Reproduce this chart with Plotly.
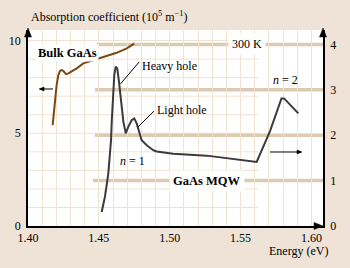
import plotly.graph_objects as go

# ---------------- data ----------------
bulk_energy = [1.4174, 1.4183, 1.4193, 1.4202, 1.4214, 1.4226, 1.4238, 1.4249, 1.4268,
               1.4285, 1.4308, 1.4344, 1.4390, 1.4461, 1.4532, 1.4626, 1.4697, 1.4750]
bulk_alpha = [5.44, 6.25, 6.97, 7.60, 8.14, 8.37, 8.41, 8.37, 8.19,
              8.23, 8.34, 8.50, 8.77, 8.95, 9.13, 9.34, 9.58, 9.83]

mqw_energy = [1.4520, 1.4543, 1.4567, 1.4586, 1.4591, 1.4602, 1.4609, 1.4619, 1.4630,
              1.4642, 1.4656, 1.4673, 1.4690, 1.4708, 1.4732, 1.4750, 1.4767, 1.4783,
              1.4802, 1.4838, 1.4884, 1.4908, 1.5025, 1.5261, 1.5426, 1.5614, 1.5708,
              1.5789, 1.5807, 1.5908]
mqw_alpha = [0.31, 0.645, 1.16, 1.89, 2.30, 2.96, 3.33, 3.51, 3.47,
             3.18, 2.74, 2.30, 2.04, 2.19, 2.33, 2.37, 2.26, 2.08,
             1.89, 1.78, 1.67, 1.64, 1.59, 1.55, 1.48, 1.41, 2.09,
             2.81, 2.81, 2.48]

x_ticks = [1.40, 1.45, 1.50, 1.55, 1.60]
x_ticklabels = ["1.40", "1.45", "1.50", "1.55", "1.60"]
left_ticks = [0, 5, 10]
right_ticks = [0, 1, 2, 3, 4]
level_values = [1, 2, 3, 4]
level_starts = [1.4459, 1.4473, 1.4473, 1.4487]

X_MAX = 1.6082
LEFT_MAX = 10.57
RIGHT_MAX = 4.317

PAPER = "#eee3d6"
GRID = "#f1e2d1"
TAN = "#dccab3"
BROWN = "#7a4812"
DARK = "#3a3a3a"
FONT = "Liberation Serif"

fig = go.Figure()

fig.add_trace(go.Scatter(x=bulk_energy, y=bulk_alpha, mode="lines",
                         line=dict(color=BROWN, width=2), yaxis="y", hoverinfo="skip"))
fig.add_trace(go.Scatter(x=mqw_energy, y=mqw_alpha, mode="lines",
                         line=dict(color=DARK, width=2), yaxis="y2", hoverinfo="skip"))

shapes = []
# horizontal grid (limited extent like graph paper)
for v in range(1, 11):
    shapes.append(dict(type="line", xref="x", yref="y", x0=1.40, x1=1.5625, y0=v, y1=v,
                       line=dict(color=GRID, width=1), layer="below"))
# thick tan level lines
for v, s in zip(level_values, level_starts):
    shapes.append(dict(type="line", xref="x", yref="y2", x0=s, x1=X_MAX, y0=v, y1=v,
                       line=dict(color=TAN, width=3.5), layer="below"))
# leader lines
shapes.append(dict(type="line", xref="x", yref="y2", x0=1.4653, y0=3.13, x1=1.4784, y1=3.61,
                   line=dict(color="black", width=1)))
shapes.append(dict(type="line", xref="x", yref="y2", x0=1.4776, y0=2.18, x1=1.4889, y1=2.53,
                   line=dict(color="black", width=1)))


def head(xref, yref, xa, ya, path):
    return dict(type="path", xref=xref, yref=yref, xsizemode="pixel", ysizemode="pixel",
                xanchor=xa, yanchor=ya, path=path,
                fillcolor="black", line=dict(color="black", width=0.5))


# series arrows (shaft + head)
shapes.append(dict(type="line", xref="x", yref="y", x0=1.4176, x1=1.4085, y0=7.39, y1=7.39,
                   line=dict(color="black", width=1)))
shapes.append(head("x", "y", 1.4078, 7.39, "M 0,0 L 5,2 L 5,-2 Z"))
shapes.append(dict(type="line", xref="x", yref="y2", x0=1.5708, x1=1.5925, y0=1.63, y1=1.63,
                   line=dict(color="black", width=1)))
shapes.append(head("x", "y2", 1.5934, 1.63, "M 0,0 L -5,2 L -5,-2 Z"))
# axis arrowheads
shapes.append(head("paper", "paper", 0, 1, "M 0,2 L -3.5,-7 L 3.5,-7 Z"))
shapes.append(head("paper", "paper", 1, 1, "M 0,2 L -3.5,-7 L 3.5,-7 Z"))
shapes.append(head("paper", "paper", 1, 0, "M 0,0 L -9,3.5 L -9,-3.5 Z"))

annotations = [
    dict(text="Absorption coefficient (10<sup>5</sup> m<sup>−1</sup>)", xref="paper", yref="paper",
         x=0.005, y=1.068, xanchor="left", yanchor="middle", showarrow=False,
         font=dict(size=12, family=FONT)),
    dict(text="Energy (eV)", xref="paper", yref="paper", x=1.025, y=-0.128,
         xanchor="right", yanchor="middle", showarrow=False, font=dict(size=12, family=FONT)),
    dict(text="<b>Bulk GaAs</b>", xref="x", yref="y", x=1.4282, y=9.33, showarrow=False,
         bgcolor="white", borderpad=1, font=dict(size=12.5, family=FONT)),
    dict(text="300 K", xref="x", yref="y2", x=1.5543, y=4.0, showarrow=False,
         bgcolor="white", borderpad=3, font=dict(size=12, family=FONT)),
    dict(text="Heavy hole", xref="x", yref="y2", x=1.4790, y=3.52, xanchor="left",
         showarrow=False, font=dict(size=12, family=FONT)),
    dict(text="Light hole", xref="x", yref="y2", x=1.4893, y=2.555, xanchor="left",
         showarrow=False, font=dict(size=12, family=FONT)),
    dict(text="<i>n</i> = 2", xref="x", yref="y2", x=1.5814, y=3.22, showarrow=False,
         font=dict(size=12, family=FONT)),
    dict(text="<i>n</i> = 1", xref="x", yref="y2", x=1.4734, y=1.43, showarrow=False,
         font=dict(size=12, family=FONT)),
    dict(text="<b>GaAs MQW</b>", xref="x", yref="y2", x=1.5261, y=1.0, showarrow=False,
         bgcolor="white", borderpad=3, font=dict(size=12.5, family=FONT)),
]

fig.update_layout(
    width=350, height=268,
    margin=dict(l=28, r=27, t=30, b=42, autoexpand=False),
    paper_bgcolor=PAPER, plot_bgcolor="white",
    showlegend=False,
    font=dict(family=FONT, size=12, color="black"),
    xaxis=dict(range=[1.40, X_MAX], tickvals=x_ticks, ticktext=x_ticklabels,
               showline=True, linecolor="black", linewidth=1.5, ticks="",
               showgrid=True, gridcolor=GRID, gridwidth=1, zeroline=False,
               minor=dict(tick0=1.40, dtick=0.01, showgrid=True, gridcolor=GRID, gridwidth=1),
               tickfont=dict(size=12, family=FONT), fixedrange=True),
    yaxis=dict(range=[0, LEFT_MAX], tickvals=left_ticks, showline=True, linecolor="black",
               linewidth=1.5, ticks="", showgrid=False, zeroline=False,
               tickfont=dict(size=12, family=FONT), ticklabelstandoff=3),
    yaxis2=dict(range=[0, RIGHT_MAX], tickvals=right_ticks, overlaying="y", side="right",
                showline=True, linecolor="black", linewidth=1.5, ticks="", showgrid=False,
                zeroline=False, tickfont=dict(size=12, family=FONT), ticklabelstandoff=3),
    shapes=shapes,
    annotations=annotations,
)

fig.write_html("out.html", config={"displayModeBar": False},
               post_script="document.body.style.margin='0';")
